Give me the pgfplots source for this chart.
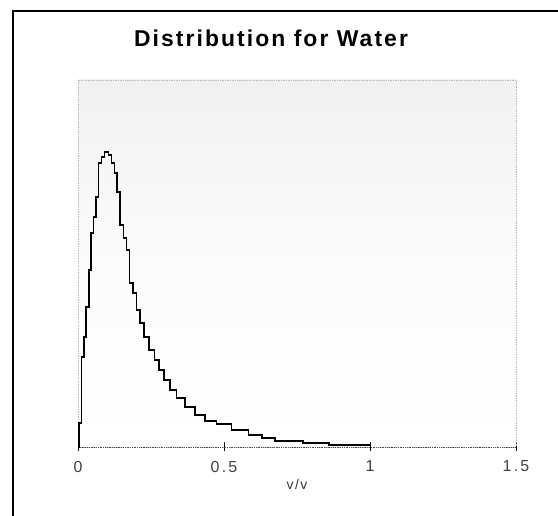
\documentclass[border=0pt]{standalone}
\usepackage{fontspec}
\setmainfont{Liberation Sans}
\usepackage{pgfplots}
\pgfplotsset{compat=1.18}
\begin{document}
\begin{tikzpicture}[x=1bp,y=1bp]
\useasboundingbox (0,0) rectangle (558,516);
\draw[line width=1.6bp] (13,-20) -- (13,505) -- (600,505);
\node[font={\fontsize{23}{26}\selectfont\bfseries\addfontfeature{LetterSpace=9}}] at (271,478) {Distribution for Water};
\begin{axis}[
  at={(78bp,69bp)}, anchor=south west,
  scale only axis, width=438bp, height=367bp,
  xmin=0, xmax=1.5, ymin=0, ymax=367,
  axis background/.style={shade, top color=gray!11, bottom color=white, middle color=gray!3},
  axis line style={gray!55, densely dotted, line width=0.7bp},
  ytick=\empty,
  xtick={0,0.5,1,1.5},
  xticklabels={0,0.5,1,1.5},
  xtick pos=bottom,
  tick align=center,
  major tick length=9bp,
  tick style={black, solid, line width=1bp},
  /pgf/number format/assume math mode=true,
  xticklabel style={font=\fontsize{16}{18}\selectfont\addfontfeature{LetterSpace=14}, yshift=-6bp, gray!50!black},
  xlabel={v/v},
  xlabel style={font=\fontsize{14}{16}\selectfont\addfontfeature{LetterSpace=10}, yshift=0bp, gray!40!black},
  clip=false,
]
\draw[gray!60!black, densely dotted, line width=0.8bp] (axis cs:0,0) -- (axis cs:1.5,0);
\addplot[const plot, black, line width=1.4bp] coordinates {
(0,0) (0.004,24) (0.012,90) (0.020,110) (0.028,140) (0.037,177) (0.045,214)
(0.053,230) (0.062,250) (0.070,284) (0.080,290) (0.090,295) (0.104,292)
(0.114,284) (0.124,274) (0.134,255) (0.144,222) (0.155,209) (0.166,197)
(0.177,164) (0.189,154) (0.201,137) (0.212,124) (0.226,110) (0.243,97)
(0.261,87) (0.278,77) (0.295,67) (0.315,57) (0.337,49) (0.366,40)
(0.401,32) (0.435,26) (0.475,23) (0.526,17) (0.584,12) (0.630,9)
(0.675,6) (0.770,4) (0.860,2) (1.0,2)
};
\end{axis}
\end{tikzpicture}
\end{document}
